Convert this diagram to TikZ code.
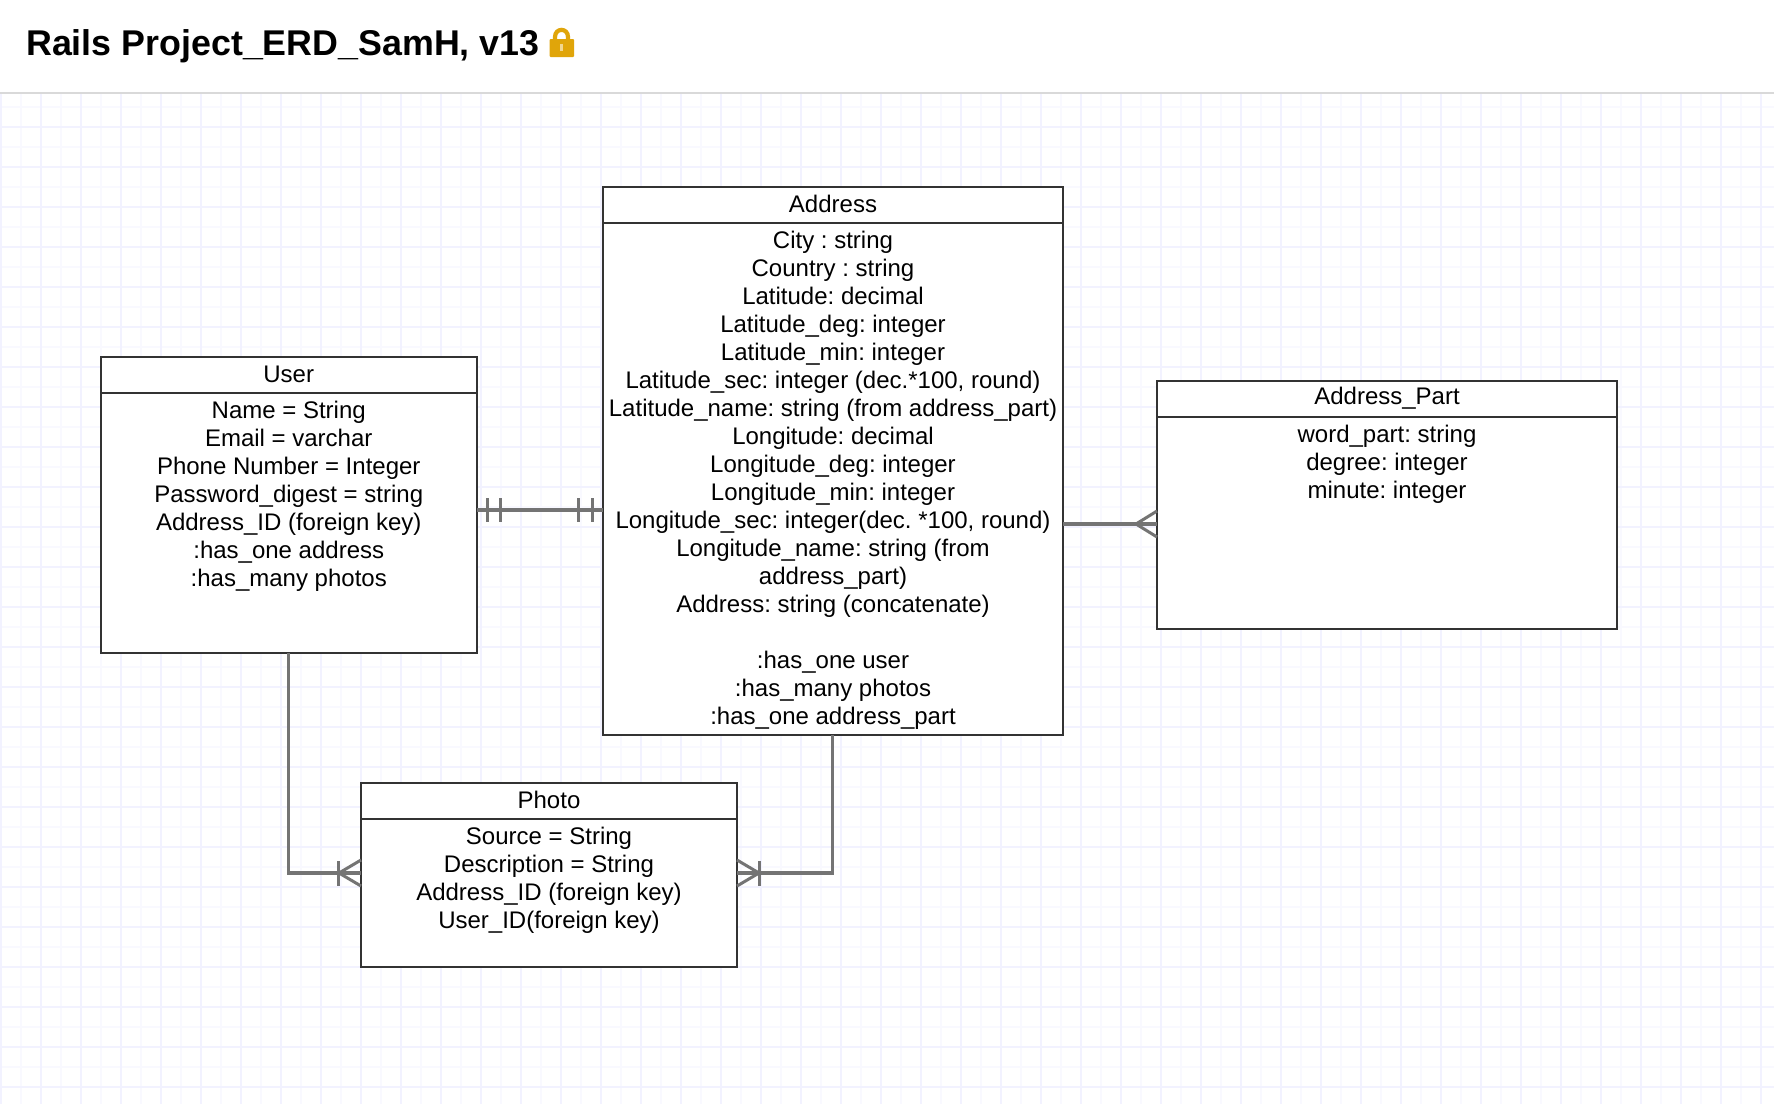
\documentclass[tikz,border=0pt]{standalone}
\usepackage{fontspec}
\setmainfont{Liberation Sans}
\frenchspacing
\definecolor{gridminor}{HTML}{F9F9FF}
\definecolor{gridmajor}{HTML}{F2F2FF}
\definecolor{boxline}{HTML}{333333}
\definecolor{connline}{HTML}{747474}
\definecolor{lockcol}{HTML}{E0A50A}
\tikzset{
  x=1pt,y=-1pt,
  erbox/.style={draw=boxline,line width=2pt,fill=white,rectangle,inner sep=0pt,outer sep=0pt,anchor=north west},
  erhead/.style={font=\fontsize{24}{28}\selectfont,inner sep=0pt,anchor=center},
  erbody/.style={font=\fontsize{24}{28}\selectfont,align=center,inner sep=0pt,anchor=north},
  conn/.style={draw=connline,line width=3.4pt},
  crow/.style={draw=connline,line width=3pt},
}
\newcommand{\firstline}{\rule{0pt}{20pt}}
\newcommand{\erentity}[8]{%
  % name, left, top, right, headerbottom, bottom, title, body
  \node[erbox,minimum width=#4-#2,minimum height=#6-#3] (#1) at (#2,#3) {};
  \draw[draw=boxline,line width=2pt] (#2,#5) -- (#4,#5);
  \node[erhead] (#1head) at ({(#2+#4)/2},{(#3+#5)/2-1}) {#7};
  \node[erbody] (#1text) at ({(#2+#4)/2},{#5+5.5}) {\firstline #8};
}
\begin{document}
\begin{tikzpicture}
\useasboundingbox (0,0) rectangle (1774,1104);
\fill[white] (0,0) rectangle (1774,1104);
% grid
\foreach \gx in {0,20,...,1770} {\draw[gridminor,line width=1.6pt] (\gx+1,94) -- (\gx+1,1104);}
\foreach \gy in {107,127,...,1104} {\draw[gridminor,line width=1.6pt] (0,\gy) -- (1774,\gy);}
\foreach \gx in {0,40,...,1770} {\draw[gridmajor,line width=2pt] (\gx+1,94) -- (\gx+1,1104);}
\foreach \gy in {127,167,...,1104} {\draw[gridmajor,line width=2pt] (0,\gy) -- (1774,\gy);}
% title bar
\draw[draw=black!15,line width=2pt] (0,93) -- (1774,93);
\node[font=\fontsize{35.8}{40}\selectfont\bfseries,anchor=base west,inner sep=0pt] (title) at (26,55) {Rails Project\_ERD\_SamH, v13};
% lock
\draw[lockcol,line width=4.2pt] (555,42) -- (555,37) .. controls (555,27.5) and (568,27.5) .. (568,37) -- (568,42);
\fill[lockcol,rounded corners=1pt] (549.5,39) rectangle (574,57);
\fill[white!55!lockcol] (560.3,43.5) rectangle (563.3,50.5);
% entities
\erentity{user}{101}{357}{476.5}{393}{653}{User}{Name = String\\Email = varchar\\Phone Number = Integer\\Password\_digest = string\\Address\_ID (foreign key)\\:has\_one address\\:has\_many photos}
\erentity{address}{603}{187}{1063}{223}{735}{Address}{City : string\\Country : string\\Latitude: decimal\\Latitude\_deg: integer\\Latitude\_min: integer\\Latitude\_sec: integer (dec.*100, round)\\Latitude\_name: string (from address\_part)\\Longitude: decimal\\Longitude\_deg: integer\\Longitude\_min: integer\\Longitude\_sec: integer(dec. *100, round)\\Longitude\_name: string (from\\address\_part)\\Address: string (concatenate)\\[28pt]:has\_one user\\:has\_many photos\\:has\_one address\_part}
\erentity{part}{1157}{381}{1617}{417}{629}{Address\_Part}{word\_part: string\\degree: integer\\minute: integer}
\erentity{photo}{361}{783}{737}{819}{967}{Photo}{Source = String\\Description = String\\Address\_ID (foreign key)\\User\_ID(foreign key)}
% connectors
\coordinate (ua) at (user.east |- 0,510);
\coordinate (au) at (address.west |- 0,510);
\coordinate (ap) at (address.east |- 0,524);
\coordinate (pa) at (part.west |- 0,524);
\coordinate (upc) at (user.south |- 0,873);
\coordinate (up) at (photo.west |- 0,873);
\coordinate (adrs) at ([xshift=-0.7pt]address.south);
\coordinate (apc) at (adrs |- 0,873);
\coordinate (ph) at (photo.east |- 0,873);
\draw[conn] (ua) -- (au);
\draw[conn] (ap) -- (pa);
\draw[conn] (user.south) -- (upc) -- (up);
\draw[conn] (adrs) -- (apc) -- (ph);
% cardinality marks
\foreach \bx in {487,500,578,592} {\draw[crow] (\bx,498) -- (\bx,522);}
\draw[crow] (1157,511) -- (1136,524) -- (1157,537);
\draw[crow] (361,860) -- (339,873) -- (361,886);
\draw[crow] (338,861) -- (338,886);
\draw[crow] (737,860) -- (759,873) -- (737,886);
\draw[crow] (759,861) -- (759,886);
\end{tikzpicture}
\end{document}
